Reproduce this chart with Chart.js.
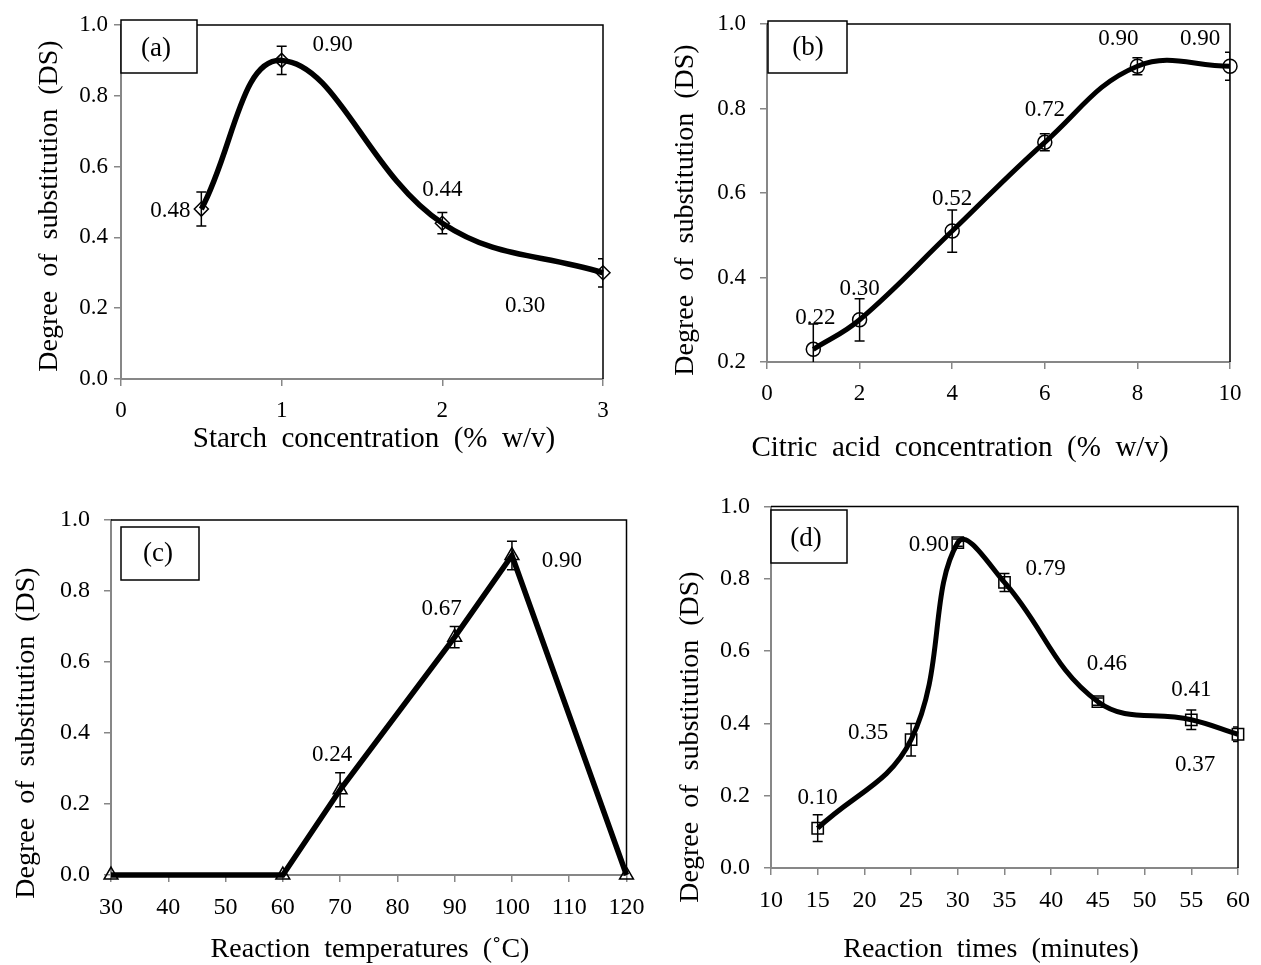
<!DOCTYPE html>
<html>
<head>
<meta charset="utf-8">
<script src="https://cdn.jsdelivr.net/npm/chart.js@4.4.1/dist/chart.umd.min.js"></script>
<style>
  html, body { margin: 0; padding: 0; background: #fff; }
  #wrap { position: relative; width: 1261px; height: 965px; overflow: hidden; }
  #wrap canvas { position: absolute; }
</style>
</head>
<body>
<div id="wrap">
  <canvas id="panelA"></canvas>
  <canvas id="panelB"></canvas>
  <canvas id="panelC"></canvas>
  <canvas id="panelD"></canvas>
</div>
<script>
// (a) starch concentration
const starchX = [0.5, 1, 2, 3];
const starchDS = [0.48, 0.90, 0.44, 0.30];
const starchErr = [0.048, 0.04, 0.03, 0.04];
const starchLabels = ['0.48', '0.90', '0.44', '0.30'];
const starchXTicks = [0, 1, 2, 3];

// (b) citric acid concentration
const citricX = [1, 2, 4, 6, 8, 10];
const citricDS = [0.23, 0.30, 0.51, 0.72, 0.90, 0.90];
const citricErr = [0.06, 0.05, 0.05, 0.02, 0.02, 0.033];
const citricLabels = ['0.22', '0.30', '0.52', '0.72', '0.90', '0.90'];
const citricXTicks = [0, 2, 4, 6, 8, 10];

// (c) reaction temperature
const tempX = [30, 60, 70, 90, 100, 120];
const tempDS = [0, 0, 0.24, 0.67, 0.90, 0];
const tempErr = [0, 0, 0.048, 0.03, 0.04, 0];
const tempLabels = [null, null, '0.24', '0.67', '0.90', null];
const tempXTicks = [30, 40, 50, 60, 70, 80, 90, 100, 110, 120];

// (d) reaction time
const timeX = [15, 25, 30, 35, 45, 55, 60];
const timeDS = [0.11, 0.355, 0.90, 0.79, 0.46, 0.41, 0.37];
const timeErr = [0.037, 0.045, 0.01, 0.025, 0.01, 0.027, 0.02];
const timeLabels = ['0.10', '0.35', '0.90', '0.79', '0.46', '0.41', '0.37'];
const timeXTicks = [10, 15, 20, 25, 30, 35, 40, 45, 50, 55, 60];

const dsTicks = [0, 0.2, 0.4, 0.6, 0.8, 1.0];
const dsTicksB = [0.2, 0.4, 0.6, 0.8, 1.0];

const yTitle = 'Degree  of  substitution  (DS)';

Chart.defaults.font.family = "'Liberation Serif', 'Times New Roman', serif";
Chart.defaults.color = '#000';

const FONT = "'Liberation Serif', 'Times New Roman', serif";
const AXIS_GRAY = '#878787';

// error bars, value labels, frame, panel tag and axis titles
function decor(p) {
  return {
    id: 'decor',
    afterDatasetsDraw(chart) {
      const { ctx, chartArea: ca, scales: { x, y } } = chart;
      ctx.save();
      ctx.beginPath();
      ctx.rect(ca.left, ca.top - 2, ca.width, ca.height + 2);
      ctx.clip();
      ctx.strokeStyle = '#000';
      ctx.lineWidth = 1.5;
      p.err.forEach((e, i) => {
        if (!e) return;
        const px = x.getPixelForValue(p.xs[i]);
        const top = y.getPixelForValue(p.ys[i] + e);
        const bot = y.getPixelForValue(p.ys[i] - e);
        ctx.beginPath();
        ctx.moveTo(px, top); ctx.lineTo(px, bot);
        ctx.moveTo(px - 5, top); ctx.lineTo(px + 5, top);
        ctx.moveTo(px - 5, bot); ctx.lineTo(px + 5, bot);
        ctx.stroke();
      });
      ctx.restore();
    },
    afterDraw(chart) {
      const { ctx, chartArea: ca } = chart;
      const ox = p.box.x, oy = p.box.y;
      ctx.save();
      // top and right frame
      ctx.strokeStyle = '#000';
      ctx.lineWidth = 1.5;
      ctx.beginPath();
      ctx.moveTo(ca.left, ca.top);
      ctx.lineTo(ca.right, ca.top);
      ctx.lineTo(ca.right, ca.bottom);
      ctx.stroke();

      // value labels
      const pts = chart.getDatasetMeta(0).data;
      ctx.fillStyle = '#000';
      ctx.font = '23px ' + FONT;
      ctx.textAlign = 'center';
      ctx.textBaseline = 'middle';
      p.labels.forEach((t, i) => {
        if (!t) return;
        const off = p.labelPos[i];
        ctx.fillText(t, pts[i].x + off[0], pts[i].y + off[1]);
      });

      // panel tag box
      const b = p.tag;
      ctx.fillStyle = '#fff';
      ctx.fillRect(b.l - ox, b.t - oy, b.r - b.l, b.b - b.t);
      ctx.strokeRect(b.l - ox, b.t - oy, b.r - b.l, b.b - b.t);
      ctx.fillStyle = '#000';
      ctx.font = '27px ' + FONT;
      ctx.fillText(b.text, b.cx - ox, b.cy - oy);

      // axis titles
      ctx.font = p.xTitleSize + 'px ' + FONT;
      ctx.fillText(p.xTitle, p.xTitleAt[0] - ox, p.xTitleAt[1] - oy);
      ctx.translate(p.yTitleAt[0] - ox, p.yTitleAt[1] - oy);
      ctx.rotate(-Math.PI / 2);
      ctx.font = '28px ' + FONT;
      ctx.fillText(yTitle, 0, 0);
      ctx.restore();
    }
  };
}

function makePanel(p) {
  const cv = document.getElementById(p.id);
  cv.width = p.box.w;
  cv.height = p.box.h;
  cv.style.left = p.box.x + 'px';
  cv.style.top = p.box.y + 'px';
  const a = p.area;
  const yw = a.l - p.box.x;
  const xh = p.box.y + p.box.h - a.b;

  new Chart(cv, {
    type: 'line',
    data: {
      datasets: [{
        data: p.xs.map((x, i) => ({ x: x, y: p.ys[i] })),
        borderColor: '#000',
        borderWidth: p.lineWidth,
        tension: p.tension,
        pointStyle: p.marker,
        pointRadius: p.markerSize,
        pointBorderWidth: 1.5,
        pointBorderColor: '#000',
        pointBackgroundColor: 'rgba(255,255,255,0)',
        fill: false,
        clip: false
      }]
    },
    options: {
      responsive: false,
      animation: false,
      events: [],
      layout: {
        padding: { left: 0, top: a.t - p.box.y, right: p.box.x + p.box.w - a.r, bottom: 0 }
      },
      plugins: { legend: { display: false }, tooltip: { enabled: false } },
      scales: {
        x: {
          type: 'linear',
          min: p.xTicks[0],
          max: p.xTicks[p.xTicks.length - 1],
          afterBuildTicks: s => { s.ticks = p.xTicks.map(v => ({ value: v })); },
          afterFit: s => { s.height = xh; s.paddingLeft = 0; s.paddingRight = 0; },
          ticks: { font: { size: p.tickSize }, padding: 11, maxRotation: 0, autoSkip: false, callback: v => String(v) },
          grid: { drawOnChartArea: false, drawTicks: true, tickLength: 7, color: AXIS_GRAY, lineWidth: 1.5 },
          border: { color: AXIS_GRAY, width: 2 }
        },
        y: {
          type: 'linear',
          min: p.yTicks[0],
          max: p.yTicks[p.yTicks.length - 1],
          afterBuildTicks: s => { s.ticks = p.yTicks.map(v => ({ value: v })); },
          afterFit: s => { s.width = yw; s.paddingTop = 0; s.paddingBottom = 0; },
          ticks: { font: { size: p.tickSize }, padding: p.yTickPad, autoSkip: false, callback: v => v.toFixed(1) },
          grid: { drawOnChartArea: false, drawTicks: true, tickLength: 7, color: AXIS_GRAY, lineWidth: 1.5 },
          border: { color: AXIS_GRAY, width: 2 }
        }
      }
    },
    plugins: [decor(p)]
  });
}

makePanel({
  id: 'panelA',
  box: { x: 0, y: 0, w: 660, h: 482 },
  area: { l: 121, r: 603, t: 25, b: 379 },
  xs: starchX, ys: starchDS, err: starchErr, labels: starchLabels,
  labelPos: [[-31, 2], [51, -15], [0, -33], [-78, 33]],
  xTicks: starchXTicks, yTicks: dsTicks, yTickPad: 6, tickSize: 23,
  marker: 'rectRot', markerSize: 7, lineWidth: 5.5, tension: 0.4,
  tag: { l: 121, r: 197, t: 20, b: 73, text: '(a)', cx: 156, cy: 49 },
  xTitle: 'Starch  concentration  (%  w/v)', xTitleSize: 29, xTitleAt: [374, 439],
  yTitleAt: [50, 206]
});

makePanel({
  id: 'panelB',
  box: { x: 640, y: 0, w: 621, h: 482 },
  area: { l: 767, r: 1230, t: 24, b: 362 },
  xs: citricX, ys: citricDS, err: citricErr, labels: citricLabels,
  labelPos: [[2, -31], [0, -31], [0, -32], [0, -32], [-19, -27], [-30, -27]],
  xTicks: citricXTicks, yTicks: dsTicksB, yTickPad: 14, tickSize: 23,
  marker: 'circle', markerSize: 7, lineWidth: 5, tension: 0.4,
  tag: { l: 768, r: 847, t: 21, b: 73, text: '(b)', cx: 808, cy: 48 },
  xTitle: 'Citric  acid  concentration  (%  w/v)', xTitleSize: 29, xTitleAt: [960, 448],
  yTitleAt: [686, 210]
});

makePanel({
  id: 'panelC',
  box: { x: 0, y: 482, w: 660, h: 483 },
  area: { l: 111, r: 626.5, t: 520, b: 875 },
  xs: tempX, ys: tempDS, err: tempErr, labels: tempLabels,
  labelPos: [null, null, [-8, -35], [-13, -28], [50, 5]],
  xTicks: tempXTicks, yTicks: dsTicks, yTickPad: 14, tickSize: 24,
  marker: 'triangle', markerSize: 8, lineWidth: 5.5, tension: 0,
  tag: { l: 121, r: 199, t: 527, b: 580, text: '(c)', cx: 158, cy: 554 },
  xTitle: 'Reaction  temperatures  (˚C)', xTitleSize: 28, xTitleAt: [370, 950],
  yTitleAt: [27, 733]
});

makePanel({
  id: 'panelD',
  box: { x: 640, y: 482, w: 621, h: 483 },
  area: { l: 771, r: 1238, t: 506.5, b: 868 },
  xs: timeX, ys: timeDS, err: timeErr, labels: timeLabels,
  labelPos: [[0, -30], [-43, -7], [-29, 2], [41, -13], [9, -38], [0, -30], [-43, 31]],
  xTicks: timeXTicks, yTicks: dsTicks, yTickPad: 14, tickSize: 24,
  marker: 'rect', markerSize: 8, lineWidth: 5, tension: 0.4,
  tag: { l: 771, r: 847, t: 510, b: 563, text: '(d)', cx: 806, cy: 539 },
  xTitle: 'Reaction  times  (minutes)', xTitleSize: 28, xTitleAt: [991, 950],
  yTitleAt: [691, 737]
});
</script>
</body>
</html>
